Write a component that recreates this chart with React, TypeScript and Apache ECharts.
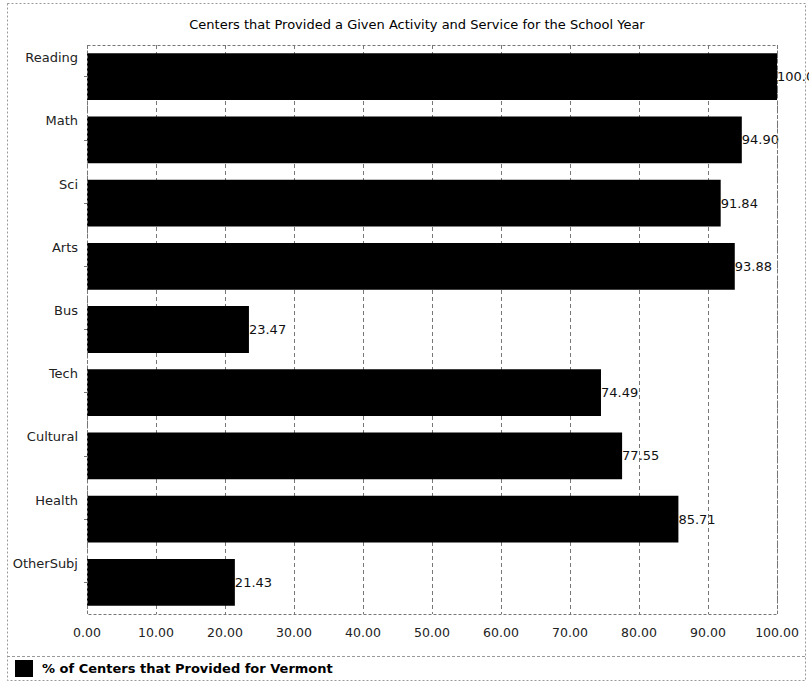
import React, { useEffect, useRef } from "react";
import * as echarts from "echarts";

const categories = ["Reading", "Math", "Sci", "Arts", "Bus", "Tech", "Cultural", "Health", "OtherSubj"];
const values = [100.0, 94.9, 91.84, 93.88, 23.47, 74.49, 77.55, 85.71, 21.43];
const seriesName = "% of Centers that Provided for Vermont";
const titleText = "Centers that Provided a Given Activity and Service for the School Year";

const W = 809;
const H = 683;
const FONT = "DejaVu Sans, Liberation Sans, Arial, sans-serif";

export default function App() {
  const ref = useRef<HTMLDivElement>(null);
  useEffect(() => {
    if (!ref.current) return;
    const chart = echarts.init(ref.current, null, { renderer: "svg" });
    const gL = 87, gR = 777, gT = 45, gB = 614;
    chart.setOption({
      animation: false,
      backgroundColor: "#fff",
      title: {
        text: titleText,
        left: 412,
        textAlign: "center",
        top: 13,
        textStyle: { fontFamily: FONT, fontSize: 13, fontWeight: "normal", color: "#000" },
      },
      grid: { left: gL, right: W - gR, top: gT, bottom: H - gB, containLabel: false },
      xAxis: {
        type: "value",
        min: 0,
        max: 100,
        interval: 10,
        axisLine: { show: false },
        axisTick: { show: false },
        axisLabel: {
          formatter: (v: number) => v.toFixed(2),
          fontFamily: FONT,
          fontSize: 12.5,
          color: "#222",
          margin: 12,
        },
        splitLine: { show: true, lineStyle: { color: "#777", type: [4, 3], width: 1 } },
      },
      yAxis: {
        type: "category",
        data: categories,
        inverse: true,
        axisLine: { show: false },
        axisTick: { show: true, alignWithLabel: true, length: 3, lineStyle: { color: "#777" } },
        axisLabel: {
          interval: 0,
          showMinLabel: true,
          showMaxLabel: true,
          hideOverlap: false,
          formatter: (v: string) => v + "\n ",
          fontFamily: FONT,
          fontSize: 13,
          lineHeight: 38,
          color: "#222",
          margin: 9,
        },
        splitLine: { show: false },
      },
      series: [
        {
          name: seriesName,
          type: "bar",
          data: values,
          barCategoryGap: "26%",
          itemStyle: { color: "#000" },
          label: {
            show: true,
            position: "right",
            distance: 0,
            formatter: (p: any) => Number(p.value).toFixed(2),
            fontFamily: FONT,
            fontSize: 13,
            color: "#111",
          },
        },
      ],
      graphic: [
        {
          type: "rect",
          shape: { x: 7.5, y: 3.5, width: 798, height: 677 },
          style: { fill: "none", stroke: "#999", lineWidth: 1, lineDash: [2, 2] },
          silent: true,
        },
        {
          type: "rect",
          shape: { x: gL + 0.5, y: gT + 0.5, width: gR - gL, height: gB - gT },
          style: { fill: "none", stroke: "#777", lineWidth: 1, lineDash: [3, 2] },
          silent: true,
          z: 100,
        },
        {
          type: "line",
          shape: { x1: 7, y1: 656.5, x2: 806, y2: 656.5 },
          style: { stroke: "#999", lineWidth: 1, lineDash: [3, 2] },
          silent: true,
        },
        {
          type: "rect",
          shape: { x: 15, y: 660, width: 18, height: 17 },
          style: { fill: "#000" },
          silent: true,
        },
        {
          type: "text",
          x: 42,
          y: 668.5,
          style: {
            text: seriesName,
            fontFamily: FONT,
            fontSize: 13,
            fontWeight: "bold",
            fill: "#000",
            textVerticalAlign: "middle",
          },
          silent: true,
        },
      ],
    });
    return () => chart.dispose();
  }, []);
  return (
    <div
      ref={ref}
      style={{ position: "absolute", left: 0, top: 0, width: W, height: H }}
    />
  );
}
